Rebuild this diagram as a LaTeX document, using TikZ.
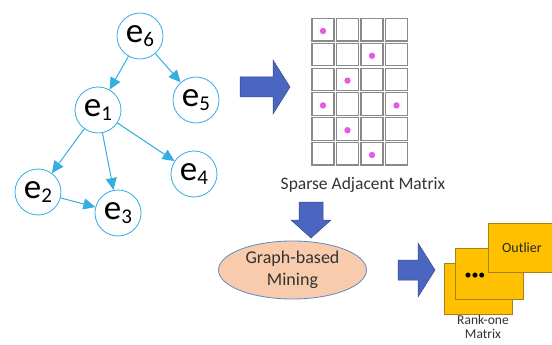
\documentclass[tikz,border=0pt]{standalone}
\usepackage{fontspec}
\setmainfont{Carlito}
\usetikzlibrary{arrows.meta}
\definecolor{nodeblue}{HTML}{35AEE2}
\definecolor{blockblue}{HTML}{4A66C0}
\definecolor{blockedge}{HTML}{34488F}
\definecolor{cellgray}{HTML}{8A8A8A}
\definecolor{dotpink}{HTML}{E35CE6}
\definecolor{peach}{HTML}{F8CBAD}
\definecolor{ellipseedge}{HTML}{5B8BC4}
\definecolor{gold}{HTML}{FFC000}
\definecolor{goldedge}{HTML}{A8801A}
\definecolor{txt}{HTML}{333333}
\newcommand\esub[1]{\fontsize{35}{35}\selectfont e\raisebox{-4.5pt}{\fontsize{21}{21}\selectfont #1}}
\tikzset{
  gnode/.style={circle, draw=nodeblue, line width=0.8pt, fill=white, minimum size=46pt, inner sep=0pt, text=black},
  gedge/.style={draw=nodeblue, line width=1pt, -{Triangle[length=12pt,width=11pt]}},
  block/.style={fill=blockblue, draw=blockedge, line width=0.5pt},
  cell/.style={draw=cellgray, line width=1.1pt, fill=white},
  pdot/.style={fill=dotpink},
  card/.style={fill=gold, draw=goldedge, line width=0.8pt},
  lbl/.style={text=txt, inner sep=0pt}
}
\begin{document}
\begin{tikzpicture}[x=1pt,y=-1pt]
\clip (0,0) rectangle (552,345);
\fill[white] (0,0) rectangle (552,345);

% graph
\node[gnode] (e6) at (140,36) {\esub{6}};
\node[gnode] (e5) at (196,100) {\esub{5}};
\node[gnode] (e1) at (98,110) {\esub{1}};
\node[gnode] (e4) at (194,174) {\esub{4}};
\node[gnode] (e2) at (38,192) {\esub{2}};
\node[gnode] (e3) at (118,213) {\esub{3}};
\draw[gedge] (e6) -- (e1);
\draw[gedge] (e6) -- (e5);
\draw[gedge] (e1) -- (e2);
\draw[gedge] (e1) -- (e3);
\draw[gedge] (e1) -- (e4);
\draw[gedge] (e2) -- (e3);

% arrow 1
\draw[block] (240,77) -- (273,77) -- (273,60) -- (290,87) -- (273,114) -- (273,97) -- (240,97) -- cycle;

% matrix
\foreach \r in {0,...,5}{
  \foreach \c in {0,...,3}{
    \draw[cell] ({312+24.5*\c},{18.5+24.8*\r}) rectangle ++(22,22.5);
  }
}
\foreach \c/\r in {0/0,2/1,1/2,0/3,3/3,1/4,2/5}{
  \fill[pdot] ({323+24.5*\c},{31+24.8*\r}) circle (3.2);
}
\node[lbl, font=\fontsize{17.5}{18}\selectfont] (sam) at (363,185) {Sparse Adjacent Matrix};

% down arrow
\draw[block] (299,202) -- (323,202) -- (323,220) -- (331,220) -- (311,238) -- (291,220) -- (299,220) -- cycle;

% ellipse
\draw[fill=peach, draw=ellipseedge, line width=0.8pt] (292.5,270) ellipse (74 and 29);
\node[lbl, font=\fontsize{18}{21.5}\selectfont, align=center] (gbm) at (292.5,270) {Graph-based\\Mining};

% arrow 2
\draw[block] (398,260) -- (418,260) -- (418,243) -- (435,270) -- (418,297) -- (418,280) -- (398,280) -- cycle;

% cards
\draw[card] (444,263) rectangle (512,314);
\draw[card] (455,248) rectangle (523,299);
\draw[card] (488,223) rectangle (560,272);
\node[lbl, text=black!85, font=\fontsize{14}{14}\selectfont] (out) at (522,248) {Outlier};
\node[lbl, text=black, font=\fontsize{14}{14}\selectfont] (dots) at (475,276) {•••};
\node[lbl, text=txt, font=\fontsize{13.5}{14}\selectfont, align=center] (rank) at (483,327) {Rank-one\\Matrix};
\end{tikzpicture}
\end{document}
